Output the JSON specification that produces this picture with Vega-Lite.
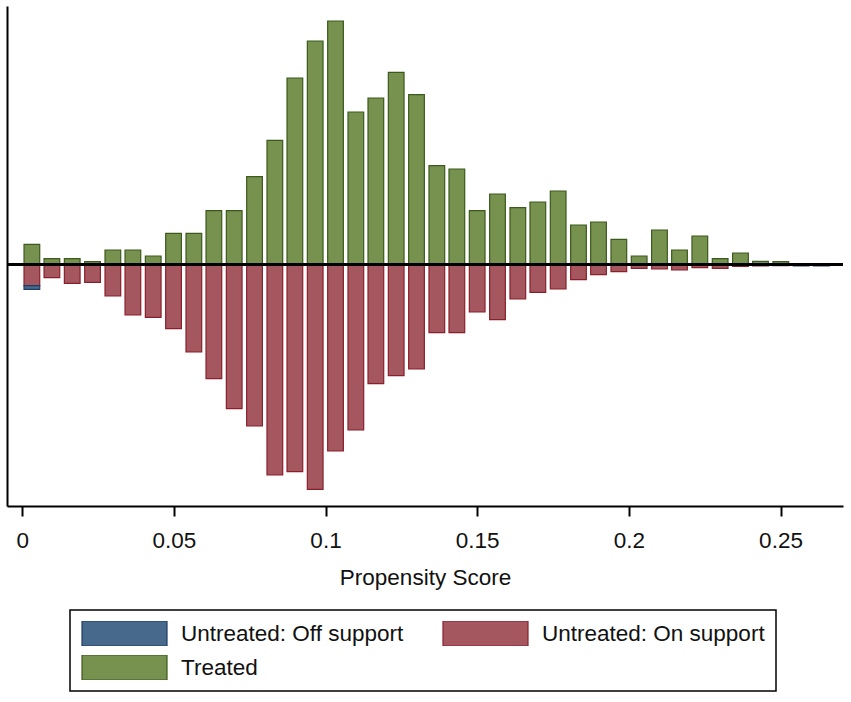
{
  "$schema": "https://vega.github.io/schema/vega-lite/v6.json",
  "width": 836,
  "height": 500,
  "autosize": {"type": "none"},
  "padding": {"left": 7, "top": 6, "right": 8, "bottom": 196},
  "background": "white",
  "data": {
    "values": [
      {"score": 0.0032, "group": "Treated", "density": 2.00},
      {"score": 0.0098, "group": "Treated", "density": 0.56},
      {"score": 0.0165, "group": "Treated", "density": 0.56},
      {"score": 0.0232, "group": "Treated", "density": 0.26},
      {"score": 0.0299, "group": "Treated", "density": 1.43},
      {"score": 0.0365, "group": "Treated", "density": 1.43},
      {"score": 0.0432, "group": "Treated", "density": 0.83},
      {"score": 0.0499, "group": "Treated", "density": 3.10},
      {"score": 0.0566, "group": "Treated", "density": 3.10},
      {"score": 0.0632, "group": "Treated", "density": 5.36},
      {"score": 0.0699, "group": "Treated", "density": 5.36},
      {"score": 0.0766, "group": "Treated", "density": 8.76},
      {"score": 0.0833, "group": "Treated", "density": 12.40},
      {"score": 0.0899, "group": "Treated", "density": 18.63},
      {"score": 0.0966, "group": "Treated", "density": 22.33},
      {"score": 0.1033, "group": "Treated", "density": 24.33},
      {"score": 0.1100, "group": "Treated", "density": 15.23},
      {"score": 0.1166, "group": "Treated", "density": 16.63},
      {"score": 0.1233, "group": "Treated", "density": 19.20},
      {"score": 0.1300, "group": "Treated", "density": 16.96},
      {"score": 0.1367, "group": "Treated", "density": 9.86},
      {"score": 0.1433, "group": "Treated", "density": 9.53},
      {"score": 0.1500, "group": "Treated", "density": 5.36},
      {"score": 0.1567, "group": "Treated", "density": 7.03},
      {"score": 0.1634, "group": "Treated", "density": 5.66},
      {"score": 0.1700, "group": "Treated", "density": 6.23},
      {"score": 0.1767, "group": "Treated", "density": 7.33},
      {"score": 0.1834, "group": "Treated", "density": 3.93},
      {"score": 0.1900, "group": "Treated", "density": 4.23},
      {"score": 0.1967, "group": "Treated", "density": 2.50},
      {"score": 0.2034, "group": "Treated", "density": 0.83},
      {"score": 0.2101, "group": "Treated", "density": 3.43},
      {"score": 0.2167, "group": "Treated", "density": 1.43},
      {"score": 0.2234, "group": "Treated", "density": 2.83},
      {"score": 0.2301, "group": "Treated", "density": 0.56},
      {"score": 0.2368, "group": "Treated", "density": 1.13},
      {"score": 0.2434, "group": "Treated", "density": 0.30},
      {"score": 0.2501, "group": "Treated", "density": 0.26},
      {"score": 0.0032, "group": "Untreated: On support", "density": -2.14},
      {"score": 0.0098, "group": "Untreated: On support", "density": -1.34},
      {"score": 0.0165, "group": "Untreated: On support", "density": -1.90},
      {"score": 0.0232, "group": "Untreated: On support", "density": -1.80},
      {"score": 0.0299, "group": "Untreated: On support", "density": -3.17},
      {"score": 0.0365, "group": "Untreated: On support", "density": -5.07},
      {"score": 0.0432, "group": "Untreated: On support", "density": -5.30},
      {"score": 0.0499, "group": "Untreated: On support", "density": -6.44},
      {"score": 0.0566, "group": "Untreated: On support", "density": -8.77},
      {"score": 0.0632, "group": "Untreated: On support", "density": -11.44},
      {"score": 0.0699, "group": "Untreated: On support", "density": -14.44},
      {"score": 0.0766, "group": "Untreated: On support", "density": -16.17},
      {"score": 0.0833, "group": "Untreated: On support", "density": -21.07},
      {"score": 0.0899, "group": "Untreated: On support", "density": -20.74},
      {"score": 0.0966, "group": "Untreated: On support", "density": -22.50},
      {"score": 0.1033, "group": "Untreated: On support", "density": -18.67},
      {"score": 0.1100, "group": "Untreated: On support", "density": -16.57},
      {"score": 0.1166, "group": "Untreated: On support", "density": -11.94},
      {"score": 0.1233, "group": "Untreated: On support", "density": -11.14},
      {"score": 0.1300, "group": "Untreated: On support", "density": -10.47},
      {"score": 0.1367, "group": "Untreated: On support", "density": -6.84},
      {"score": 0.1433, "group": "Untreated: On support", "density": -6.84},
      {"score": 0.1500, "group": "Untreated: On support", "density": -4.77},
      {"score": 0.1567, "group": "Untreated: On support", "density": -5.54},
      {"score": 0.1634, "group": "Untreated: On support", "density": -3.47},
      {"score": 0.1700, "group": "Untreated: On support", "density": -2.80},
      {"score": 0.1767, "group": "Untreated: On support", "density": -2.47},
      {"score": 0.1834, "group": "Untreated: On support", "density": -1.54},
      {"score": 0.1900, "group": "Untreated: On support", "density": -1.04},
      {"score": 0.1967, "group": "Untreated: On support", "density": -0.74},
      {"score": 0.2034, "group": "Untreated: On support", "density": -0.40},
      {"score": 0.2101, "group": "Untreated: On support", "density": -0.47},
      {"score": 0.2167, "group": "Untreated: On support", "density": -0.57},
      {"score": 0.2234, "group": "Untreated: On support", "density": -0.34},
      {"score": 0.2301, "group": "Untreated: On support", "density": -0.40},
      {"score": 0.2368, "group": "Untreated: On support", "density": -0.20},
      {"score": 0.2434, "group": "Untreated: On support", "density": -0.17},
      {"score": 0.2501, "group": "Untreated: On support", "density": -0.14},
      {"score": 0.0032, "group": "Untreated: Off support", "density": -0.36},
      {"score": 0.2568, "group": "Untreated: Off support", "density": -0.15},
      {"score": 0.2635, "group": "Untreated: Off support", "density": -0.15}
    ]
  },
  "layer": [
    {
      "mark": {"type": "bar", "size": 15.7, "strokeWidth": 1.2, "opacity": 1},
      "encoding": {
        "x": {
          "field": "score",
          "type": "quantitative",
          "title": "Propensity Score",
          "scale": {"domain": [-0.005, 0.2706], "nice": false, "zero": false, "padding": 0},
          "axis": {
            "values": [0, 0.05, 0.1, 0.15, 0.2, 0.25],
            "format": "~g",
            "grid": false,
            "tickSize": 10,
            "labelPadding": 13,
            "titlePadding": 15
          }
        },
        "y": {
          "field": "density",
          "type": "quantitative",
          "stack": "zero",
          "scale": {"domain": [-24.17, 25.83], "nice": false, "zero": false},
          "axis": {"ticks": false, "labels": false, "grid": false, "title": null}
        },
        "fill": {
          "field": "group",
          "type": "nominal",
          "scale": {
            "domain": ["Untreated: Off support", "Treated", "Untreated: On support"],
            "range": ["#46698c", "#77924f", "#a5575f"]
          },
          "legend": {"title": null}
        },
        "stroke": {
          "field": "group",
          "type": "nominal",
          "scale": {
            "domain": ["Untreated: Off support", "Treated", "Untreated: On support"],
            "range": ["#1f3d63", "#3b5a1c", "#8a1f2b"]
          },
          "legend": {"title": null}
        },
        "order": {"field": "group", "sort": "descending"}
      }
    },
    {
      "mark": {"type": "rule", "color": "#000000", "strokeWidth": 2.2},
      "encoding": {"y": {"datum": 0}}
    }
  ],
  "config": {
    "view": {"stroke": null},
    "font": "Liberation Sans",
    "axis": {
      "domainColor": "#000000",
      "domainWidth": 2,
      "tickColor": "#000000",
      "tickWidth": 2,
      "labelFont": "Liberation Sans",
      "labelFontSize": 22.5,
      "labelColor": "#111111",
      "titleFont": "Liberation Sans",
      "titleFontSize": 22.5,
      "titleFontWeight": "normal",
      "titleColor": "#111111"
    },
    "legend": {
      "orient": "none",
      "legendX": 63,
      "legendY": 604,
      "columns": 2,
      "columnPadding": 38,
      "rowPadding": 9,
      "padding": 11,
      "strokeColor": "#000000",
      "strokeWidth": 1.5,
      "labelFont": "Liberation Sans",
      "labelFontSize": 22.5,
      "labelColor": "#111111",
      "labelLimit": 400,
      "labelOffset": 13,
      "symbolType": "M-1,-0.294H1V0.294H-1Z",
      "symbolSize": 7225,
      "symbolStrokeWidth": 1.2,
      "symbolOpacity": 1,
      "clipHeight": 25
    }
  }
}
